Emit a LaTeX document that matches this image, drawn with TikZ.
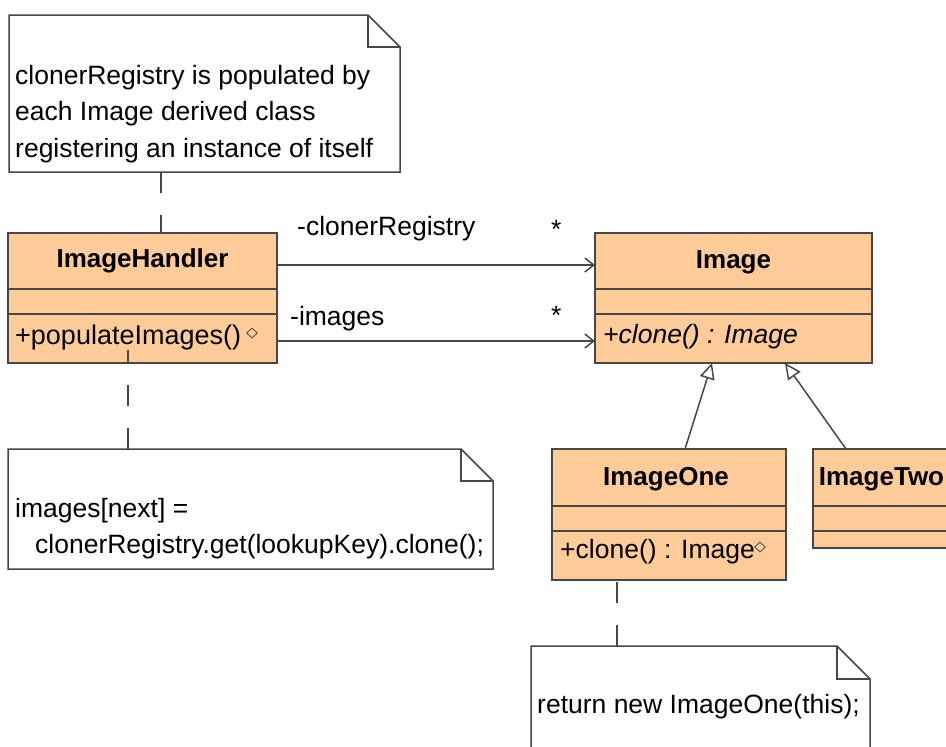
\documentclass[tikz,border=0pt]{standalone}
\usepackage{fontspec}
\setmainfont{Liberation Sans}
\usepackage{tikz}
\usetikzlibrary{calc}
\usetikzlibrary{arrows.meta}
\usetikzlibrary{shapes.geometric}

\definecolor{classfill}{HTML}{FFCC99}
\definecolor{umlline}{HTML}{474747}

\tikzset{
  classbox/.style={draw=umlline, fill=classfill, line width=1.5pt, inner sep=0pt, outer sep=0pt},
  compline/.style={draw=umlline, line width=1.5pt},
  classname/.style={font=\fontsize{26}{31}\selectfont\bfseries, inner sep=0pt, anchor=base},
  member/.style={font=\fontsize{26.5}{31}\selectfont, inner sep=0pt, anchor=base west},
  notebox/.style={inner sep=0pt, outer sep=0pt},
  notetext/.style={font=\fontsize{26.5}{31}\selectfont, inner sep=0pt, anchor=base west},
  noteline/.style={draw=umlline, line width=1.5pt},
  notelink/.style={draw=umlline, line width=1.5pt, dash pattern=on 21pt off 22pt},
  notemark/.style={diamond, draw=umlline, line width=0.8pt, minimum width=11pt, minimum height=10pt, inner sep=0pt},
  assoc/.style={draw=umlline, line width=1.5pt, -{Straight Barb[length=9pt,width=14pt]}},
  inherit/.style={draw=umlline, line width=1.5pt, -{Triangle[open,length=16pt,width=15pt,fill=white]}},
}

% note with a folded corner
\newcommand{\umlnote}[2]{%
  \draw[noteline, fill=white] (#1.north west) -- ($(#1.north east)+(-#2,0)$)
    -- ($(#1.north east)+(0,#2)$) -- (#1.south east) -- (#1.south west) -- cycle;
  \draw[noteline] ($(#1.north east)+(-#2,0)$) |- ($(#1.north east)+(0,#2)$);
}

% class box with two compartment lines
\newcommand{\umlclass}[3]{%
  \draw[compline] ($(#1.north west)+(0,#2)$) -- ($(#1.north east)+(0,#2)$);
  \draw[compline] ($(#1.north west)+(0,#3)$) -- ($(#1.north east)+(0,#3)$);
}

\begin{document}
\begin{tikzpicture}[x=1pt,y=-1pt]
  \clip (0,0) rectangle (946,747);
  \fill[white] (0,0) rectangle (946,747);

  % notes
  \node[notebox, minimum width=391pt, minimum height=157pt] (notereg) at (204.5,93.5) {};
  \umlnote{notereg}{32}
  \node[notetext] (regline1) at (15,84) {clonerRegistry is populated by};
  \node[notetext] (regline2) at (15,120.5) {each Image derived class};
  \node[notetext] (regline3) at (15,157) {registering an instance of itself};

  \node[notebox, minimum width=485pt, minimum height=120pt] (notefill) at (250.5,509) {};
  \umlnote{notefill}{32}
  \node[notetext] (fillline1) at (15,517) {images[next] =};
  \node[notetext] (fillline2) at (35,553) {clonerRegistry.get(lookupKey).clone();};

  \node[notebox, minimum width=339pt, minimum height=144pt] (noteclone) at (700.5,718) {};
  \umlnote{noteclone}{33}
  \node[notetext] (cloneline) at (537,713) {return new ImageOne(this);};

  % classes
  \node[classbox, minimum width=269pt, minimum height=130pt] (handler) at (142.5,298) {};
  \umlclass{handler}{56}{81}
  \node[classname] (handlername) at ($(handler.north)+(0,34)$) {ImageHandler};
  \node[member, font=\fontsize{27}{31}\selectfont] (populate) at ($(handler.north west)+(7,111)$) {+populateImages()};
  \node[notemark] (populatemark) at ($(handler.north west)+(244,100)$) {};

  \node[classbox, minimum width=277pt, minimum height=130pt] (image) at (733.5,298) {};
  \umlclass{image}{56}{81}
  \node[classname] (imagename) at ($(image.north)+(0,35)$) {Image};
  \node[member, font=\fontsize{26.5}{31}\selectfont\itshape] (clone) at ($(image.north west)+(8,110)$) {+clone() : Image};

  \node[classbox, minimum width=234pt, minimum height=131pt] (imageone) at (669,514.5) {};
  \umlclass{imageone}{57}{82}
  \node[classname] (imageonename) at ($(imageone.north)+(-3,36)$) {ImageOne};
  \node[member] (cloneone) at ($(imageone.north west)+(8,109)$) {+clone() : Image};
  \node[notemark] (cloneonemark) at ($(imageone.north west)+(208,98)$) {};

  \node[classbox, minimum width=137pt, minimum height=99pt] (imagetwo) at (881.5,498.5) {};
  \umlclass{imagetwo}{57}{82}
  \node[classname] (imagetwoname) at ($(imagetwo.north)+(0,36)$) {ImageTwo};

  % associations
  \draw[assoc] ($(handler.east)+(0,-33)$) -- ($(image.west)+(0,-33)$);
  \draw[assoc] ($(handler.east)+(0,43)$) -- ($(image.west)+(0,43)$);
  \node[member] (reglabel) at (297,235) {-clonerRegistry};
  \node[member] (regmult) at (551,238) {*};
  \node[member] (imglabel) at (290,325) {-images};
  \node[member] (imgmult) at (551,324) {*};

  % generalizations
  \draw[inherit] ($(imageone.north)+(16,0)$) -- ($(image.south)+(-21.5,0)$);
  \draw[inherit] ($(imagetwo.north west)+(33,0)$) -- ($(image.south)+(51.5,0)$);

  % note links
  \draw[notelink] ($(notereg.south west)+(152,0)$) -- ($(handler.north west)+(153,0)$);
  \draw[notelink] ($(notefill.north west)+(120,0)$) -- ($(handler.south west)+(120,-13)$);
  \draw[notelink] ($(noteclone.north west)+(86,0)$) -- ($(imageone.south west)+(65,0)$);
\end{tikzpicture}
\end{document}
